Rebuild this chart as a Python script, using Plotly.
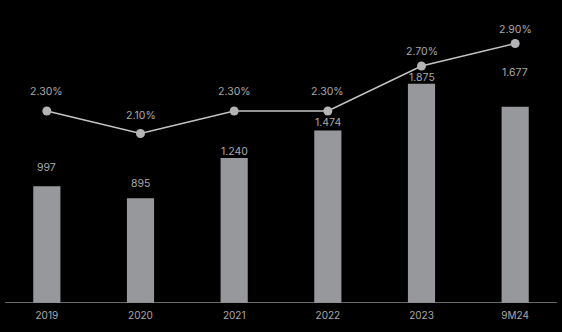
import plotly.graph_objects as go

categories = ["2019", "2020", "2021", "2022", "2023", "9M24"]
bar_values = [997, 895, 1240, 1474, 1875, 1677]
pct_values = [2.30, 2.10, 2.30, 2.30, 2.70, 2.90]

bar_label_shift = [19, 15, 6, 8, 6, 34]
pct_label_shift = [20, 18, 20, 20, 15, 14]

def fmt_thousands(v):
    return f"{v:,}".replace(",", ".")

TEXT = "#a9a9ab"
FONT = "Inter"

fig = go.Figure()
fig.add_trace(go.Bar(
    x=categories, y=bar_values, marker_color="#97989b", marker_line_width=0,
    width=0.29, hoverinfo="skip", yaxis="y"))
fig.add_trace(go.Scatter(
    x=categories, y=pct_values, mode="lines+markers", yaxis="y2",
    line=dict(color="#c4c4c6", width=1.6),
    marker=dict(size=9, color="#b4b4b6"), hoverinfo="skip"))

ann = []
for i, (v, s) in enumerate(zip(bar_values, bar_label_shift)):
    ann.append(dict(x=i, y=v, xref="x", yref="y", text=fmt_thousands(v),
                    showarrow=False, yanchor="middle", yshift=s,
                    font=dict(family=FONT, size=10.5, color=TEXT)))
for i, (v, s) in enumerate(zip(pct_values, pct_label_shift)):
    ann.append(dict(x=i, y=v, xref="x", yref="y2", text=f"{v:.2f}%",
                    showarrow=False, yanchor="middle", yshift=s,
                    font=dict(family=FONT, size=10.5, color=TEXT)))

fig.update_layout(
    width=562, height=332,
    margin=dict(l=0, r=0, t=0, b=29),
    paper_bgcolor="black", plot_bgcolor="black",
    showlegend=False, bargap=0.7,
    annotations=ann,
    shapes=[dict(type="line", xref="paper", yref="y", x0=0.009, x1=0.991,
                 y0=0, y1=0, line=dict(color="#8c8c8e", width=1.5))],
    xaxis=dict(type="category", range=[-0.5, 5.5], showgrid=False, zeroline=False,
               showline=False, ticks="outside", ticklen=3, tickcolor="rgba(0,0,0,0)",
               tickfont=dict(family=FONT, size=10, color=TEXT)),
    yaxis=dict(range=[0, 2590], visible=False, showgrid=False, zeroline=False),
    yaxis2=dict(range=[0.593, 3.287], overlaying="y", visible=False,
                showgrid=False, zeroline=False),
)

fig.write_html("out.html")
